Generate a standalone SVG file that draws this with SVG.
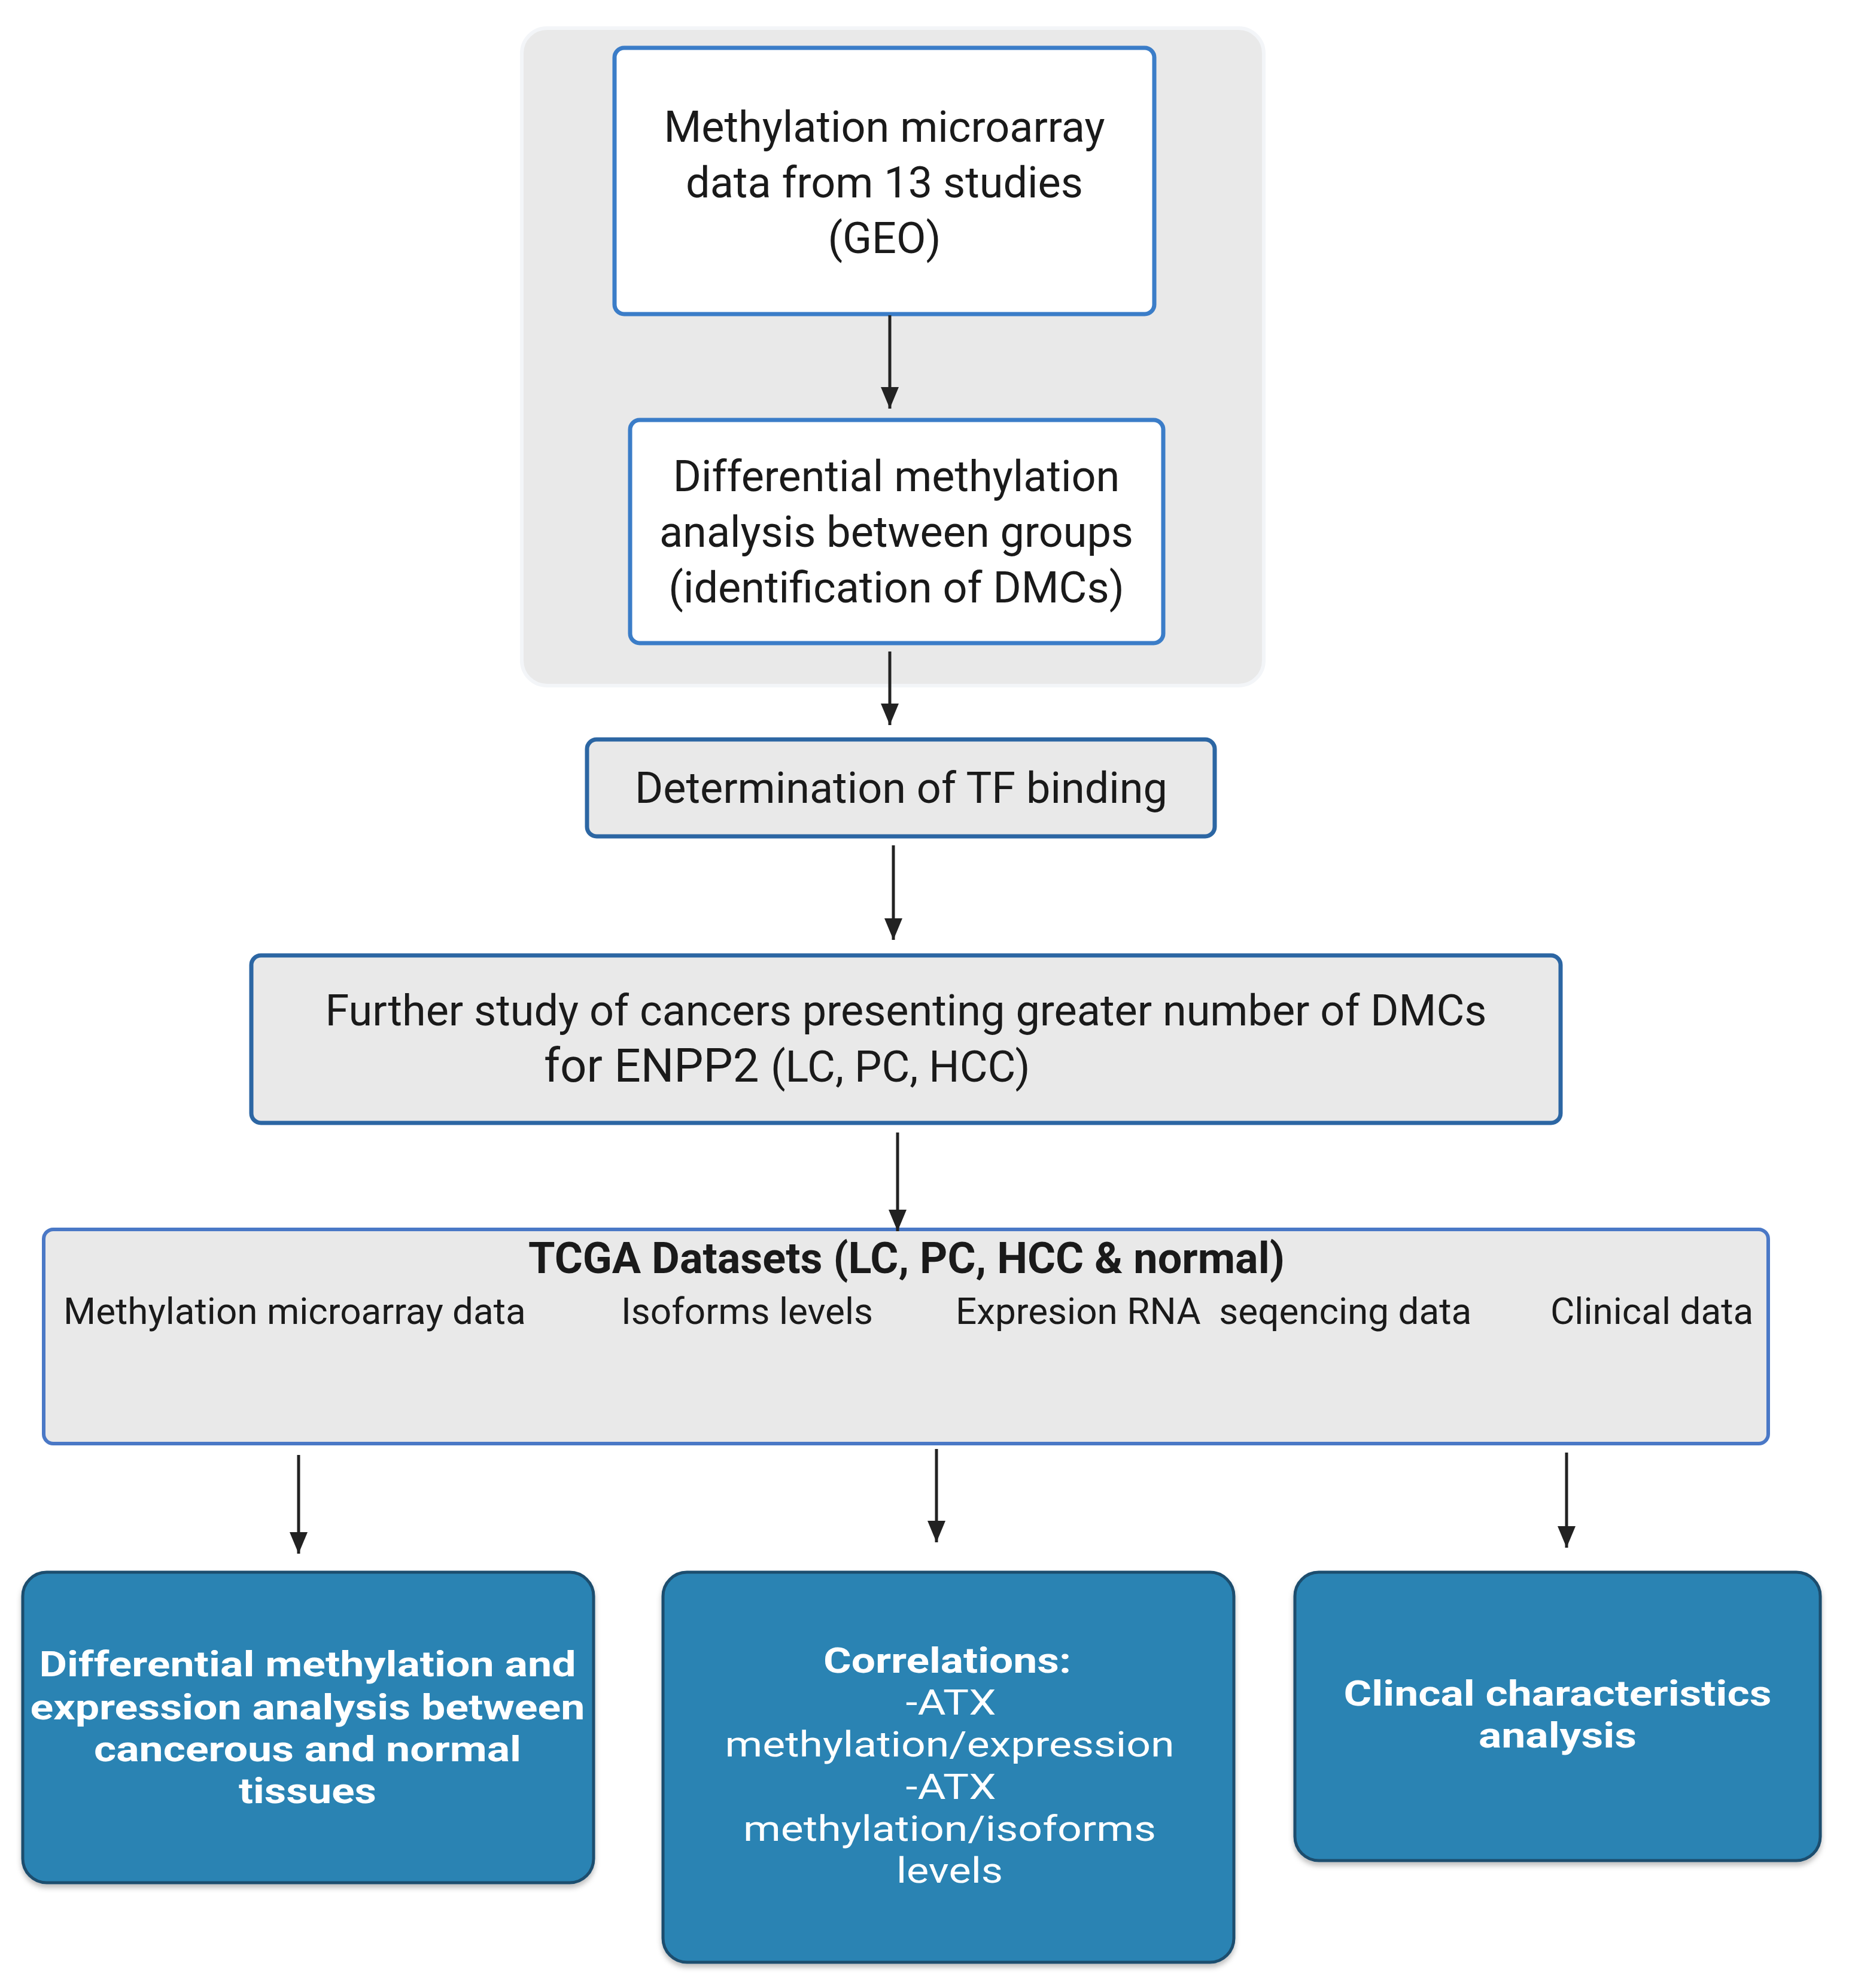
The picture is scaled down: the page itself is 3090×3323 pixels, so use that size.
<svg xmlns="http://www.w3.org/2000/svg" width="3090" height="3323" viewBox="0 0 3090 3323">
  <style>
    .t { font-family: Roboto, "Liberation Sans", sans-serif; fill: #1a1a1a; }
    .c { text-anchor: middle; }
    .w { font-family: Roboto, "Liberation Sans", sans-serif; fill: #ffffff; text-anchor: middle; font-size: 59px; }
    .wb { font-weight: bold; }
    .conn { stroke: #222222; stroke-width: 5; fill: none; marker-end: url(#ah); }
    .whitebox { fill: #ffffff; stroke: #3b7dc8; stroke-width: 7; }
    .graybox { fill: #e9e9e9; stroke: #2c66a3; stroke-width: 7; }
    .bluebox { fill: #2983b3; stroke: #1d4d6e; stroke-width: 5; }
  </style>
  <defs>
    <marker id="ah" markerUnits="userSpaceOnUse" markerWidth="40" markerHeight="40" viewBox="0 0 40 40" refX="38" refY="20" orient="auto">
      <path d="M2,5 L38,20 L2,35 Z" fill="#222222"/>
    </marker>
    <filter id="sh" x="-5%" y="-5%" width="110%" height="115%">
      <feDropShadow dx="0" dy="6" stdDeviation="4" flood-color="#000000" flood-opacity="0.25"/>
    </filter>
  </defs>
  <rect x="0" y="0" width="3090" height="3323" fill="#ffffff"/>

  <g id="panel">
    <rect x="872" y="47" width="1240" height="1099" rx="42" fill="#e9e9e9" stroke="#f3f5f8" stroke-width="6"/>
  </g>

  <g id="node-geo">
    <rect class="whitebox" x="1027" y="80" width="902" height="445" rx="16"/>
    <text class="t c" font-size="72" x="1478" y="237">Methylation microarray</text>
    <text class="t c" font-size="72" x="1478" y="330">data from 13 studies</text>
    <text class="t c" font-size="72" x="1478" y="423">(GEO)</text>
  </g>

  <g id="node-dm">
    <rect class="whitebox" x="1053" y="702" width="891" height="373" rx="16"/>
    <text class="t c" font-size="72" x="1498" y="821">Differential methylation</text>
    <text class="t c" font-size="72" x="1498" y="914">analysis between groups</text>
    <text class="t c" font-size="72" x="1498" y="1007">(identification of DMCs)</text>
  </g>

  <g id="node-tf">
    <rect class="graybox" x="981" y="1236" width="1049" height="162" rx="16"/>
    <text class="t c" font-size="72" x="1506" y="1342">Determination of TF binding</text>
  </g>

  <g id="node-further">
    <rect class="graybox" x="420" y="1597" width="2188" height="280" rx="16"/>
    <text class="t c" font-size="72" x="1514" y="1714">Further study of cancers presenting greater number of DMCs</text>
    <text class="t" x="909" y="1808"><tspan font-size="78">for ENPP2 </tspan><tspan font-size="72">(LC, PC, HCC)</tspan></text>
  </g>

  <g id="node-tcga">
    <rect x="73" y="2055" width="2882" height="358" rx="16" fill="#e9e9e9" stroke="#4a78c6" stroke-width="6"/>
    <text class="t c wb" font-size="72" x="1515" y="2128">TCGA Datasets (LC, PC, HCC &amp; normal)</text>
    <text class="t" font-size="62" x="106" y="2213">Methylation microarray data</text>
    <text class="t" font-size="62" x="1038" y="2213">Isoforms levels</text>
    <text class="t" font-size="62" x="1597" y="2213" xml:space="preserve">Expresion RNA  seqencing data</text>
    <text class="t" font-size="62" x="2591" y="2213">Clinical data</text>
  </g>

  <g id="node-diff">
    <rect class="bluebox" x="38" y="2628" width="954" height="519" rx="40" filter="url(#sh)"/>
    <text class="w wb" x="514" y="2802" textLength="897" lengthAdjust="spacingAndGlyphs">Differential methylation and</text>
    <text class="w wb" x="514" y="2874" textLength="927" lengthAdjust="spacingAndGlyphs">expression analysis between</text>
    <text class="w wb" x="514" y="2944" textLength="714" lengthAdjust="spacingAndGlyphs">cancerous and normal</text>
    <text class="w wb" x="514" y="3014" textLength="230" lengthAdjust="spacingAndGlyphs">tissues</text>
  </g>

  <g id="node-corr">
    <rect class="bluebox" x="1108" y="2628" width="954" height="652" rx="40" filter="url(#sh)"/>
    <text class="w wb" x="1583" y="2796" textLength="414" lengthAdjust="spacingAndGlyphs">Correlations:</text>
    <text class="w" x="1589" y="2866" textLength="151" lengthAdjust="spacingAndGlyphs">-ATX</text>
    <text class="w" x="1587" y="2936" textLength="751" lengthAdjust="spacingAndGlyphs">methylation/expression</text>
    <text class="w" x="1589" y="3007" textLength="151" lengthAdjust="spacingAndGlyphs">-ATX</text>
    <text class="w" x="1587" y="3077" textLength="690" lengthAdjust="spacingAndGlyphs">methylation/isoforms</text>
    <text class="w" x="1587" y="3147" textLength="178" lengthAdjust="spacingAndGlyphs">levels</text>
  </g>

  <g id="node-clin">
    <rect class="bluebox" x="2164" y="2628" width="878" height="482" rx="40" filter="url(#sh)"/>
    <text class="w wb" x="2603" y="2851" textLength="715" lengthAdjust="spacingAndGlyphs">Clincal characteristics</text>
    <text class="w wb" x="2603" y="2921" textLength="264" lengthAdjust="spacingAndGlyphs">analysis</text>
  </g>

  <g id="connectors">
    <line class="conn" x1="1487" y1="527" x2="1487" y2="683"/>
    <line class="conn" x1="1487" y1="1089" x2="1487" y2="1212"/>
    <line class="conn" x1="1493" y1="1413" x2="1493" y2="1571"/>
    <line class="conn" x1="1500" y1="1893" x2="1500" y2="2058"/>
    <line class="conn" x1="499" y1="2432" x2="499" y2="2597"/>
    <line class="conn" x1="1565" y1="2422" x2="1565" y2="2578"/>
    <line class="conn" x1="2618" y1="2428" x2="2618" y2="2587"/>
  </g>
</svg>
